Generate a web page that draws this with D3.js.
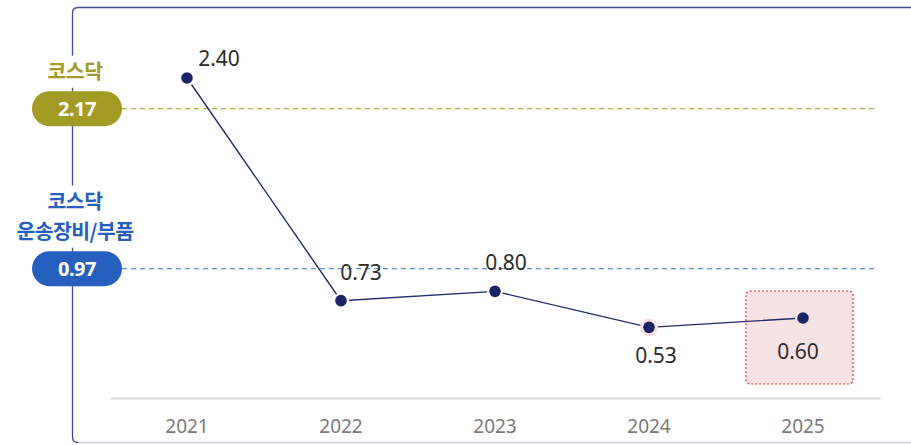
<!DOCTYPE html>
<html>
<head>
<meta charset="utf-8">
<script src="https://cdn.jsdelivr.net/npm/d3@7"></script>
<style>
  body { margin: 0; background: #fff; }
  svg { display: block; }
</style>
</head>
<body>
<script>
// donnees du graphique
var years = ["2021", "2022", "2023", "2024", "2025"];
var values = [2.40, 0.73, 0.80, 0.53, 0.60];
var refNames = [["코스닥"], ["코스닥", "운송장비/부품"]];
var refValues = [2.17, 0.97];
var refColors = ["#a29b25", "#2660bf"];
var refLineColors = ["#b3ad3a", "#5e8ed8"];

var W = 911, H = 445;

var svg = d3.select("body").append("svg")
    .attr("width", W)
    .attr("height", H);

// echelles
var x = d3.scaleBand().domain(years).range([110, 880]).padding(0);
var y = d3.scaleLinear().domain([0, 2.4]).range([398, 78]);
var cx = function(d) { return x(d) + x.bandwidth() / 2; };

// cadre
svg.append("path")
    .attr("d", "M 925 7.5 L 78 7.5 Q 72.5 7.5 72.5 13 L 72.5 437 Q 72.5 442.5 78 442.5")
    .attr("fill", "none")
    .attr("stroke", "#434a99")
    .attr("stroke-width", 1.3);
svg.append("line")
    .attr("x1", 78).attr("x2", 925)
    .attr("y1", 442.5).attr("y2", 442.5)
    .attr("stroke", "#c9cbe2")
    .attr("stroke-width", 1.5);

// axe x
var xAxis = svg.append("g")
    .attr("transform", "translate(0," + y(0) + ")")
    .call(d3.axisBottom(x).tickSize(0).tickPadding(22));
xAxis.select(".domain").attr("stroke", "#dcdcdc").attr("stroke-width", 2);
xAxis.selectAll("text")
    .attr("fill", "#7a7a7a")
    .style("font-family", "'Noto Sans', sans-serif")
    .style("font-size", "19px");

// boite de mise en valeur 2025
var last = years[years.length - 1];
var boxFill = "#f7e3e4";
svg.append("rect")
    .attr("x", cx(last) - 57)
    .attr("y", y(values[values.length - 1]) - 27)
    .attr("width", 107)
    .attr("height", 93)
    .attr("rx", 4)
    .attr("fill", boxFill)
    .attr("stroke", "#e0393e")
    .attr("stroke-width", 1.2)
    .attr("stroke-dasharray", "2,2");

// lignes de reference
var lineH = 30;
refValues.forEach(function(v, i) {
  var yy = y(v);
  svg.append("line")
      .attr("x1", 122).attr("x2", 876)
      .attr("y1", yy).attr("y2", yy)
      .attr("stroke", refLineColors[i])
      .attr("stroke-width", 1.3)
      .attr("stroke-dasharray", "5,4");

  var g = svg.append("g").attr("transform", "translate(75," + yy + ")");
  // fond blanc pour couper le cadre
  var names = refNames[i];
  var top = -17 - 6 - names.length * lineH;
  g.append("rect")
      .attr("x", -70).attr("y", top)
      .attr("width", 140).attr("height", -17 - 6 - top + 2)
      .attr("fill", "#fff");
  g.selectAll("text.nm").data(names).enter().append("text")
      .attr("class", "nm")
      .attr("x", 0)
      .attr("y", function(d, j) { return top + 23 + j * lineH; })
      .attr("text-anchor", "middle")
      .attr("fill", refColors[i])
      .style("font-family", "'Noto Sans CJK KR', sans-serif")
      .style("font-weight", "700")
      .style("font-size", "20.5px")
      .style("letter-spacing", "-0.6px")
      .text(function(d) { return d; });
  g.append("rect")
      .attr("x", -43).attr("y", -17.5)
      .attr("width", 90).attr("height", 35)
      .attr("rx", 17.5)
      .attr("fill", refColors[i]);
  g.append("text")
      .attr("x", 2).attr("y", 7.5)
      .attr("text-anchor", "middle")
      .attr("fill", "#fff")
      .style("font-family", "'Noto Sans', sans-serif")
      .style("font-weight", "700")
      .style("font-size", "20px")
      .style("letter-spacing", "-0.5px")
      .text(v.toFixed(2));
});

// courbe
var line = d3.line()
    .x(function(d, i) { return cx(years[i]); })
    .y(function(d) { return y(d); });

svg.append("path")
    .datum(values)
    .attr("fill", "none")
    .attr("stroke", "#232a6e")
    .attr("stroke-width", 1.4)
    .attr("d", line);

// halo (blanc, rose sur 2024, fond de boite sur 2025)
svg.selectAll("circle.halo").data(values).enter().append("circle")
    .attr("class", "halo")
    .attr("cx", function(d, i) { return cx(years[i]); })
    .attr("cy", function(d) { return y(d); })
    .attr("r", function(d, i) { return i == 3 ? 9 : 8; })
    .attr("fill", function(d, i) {
      if (i == 3) return "#f9dfe0";
      if (i == values.length - 1) return boxFill;
      return "#fff";
    });

svg.selectAll("circle.pt").data(values).enter().append("circle")
    .attr("class", "pt")
    .attr("cx", function(d, i) { return cx(years[i]); })
    .attr("cy", function(d) { return y(d); })
    .attr("r", 5.8)
    .attr("fill", "#1c2468");

// etiquettes (decalage dx, dy par point)
var labelPos = [[32, -12], [20, -21], [11, -21], [7, 36], [-5, 41]];
svg.selectAll("text.val").data(values).enter().append("text")
    .attr("class", "val")
    .attr("x", function(d, i) { return cx(years[i]) + labelPos[i][0]; })
    .attr("y", function(d, i) { return y(d) + labelPos[i][1]; })
    .attr("text-anchor", "middle")
    .attr("fill", "#2b2b2b")
    .style("font-family", "'Noto Sans', sans-serif")
    .style("font-size", "21px")
    .text(function(d) { return d.toFixed(2); });
</script>
</body>
</html>
